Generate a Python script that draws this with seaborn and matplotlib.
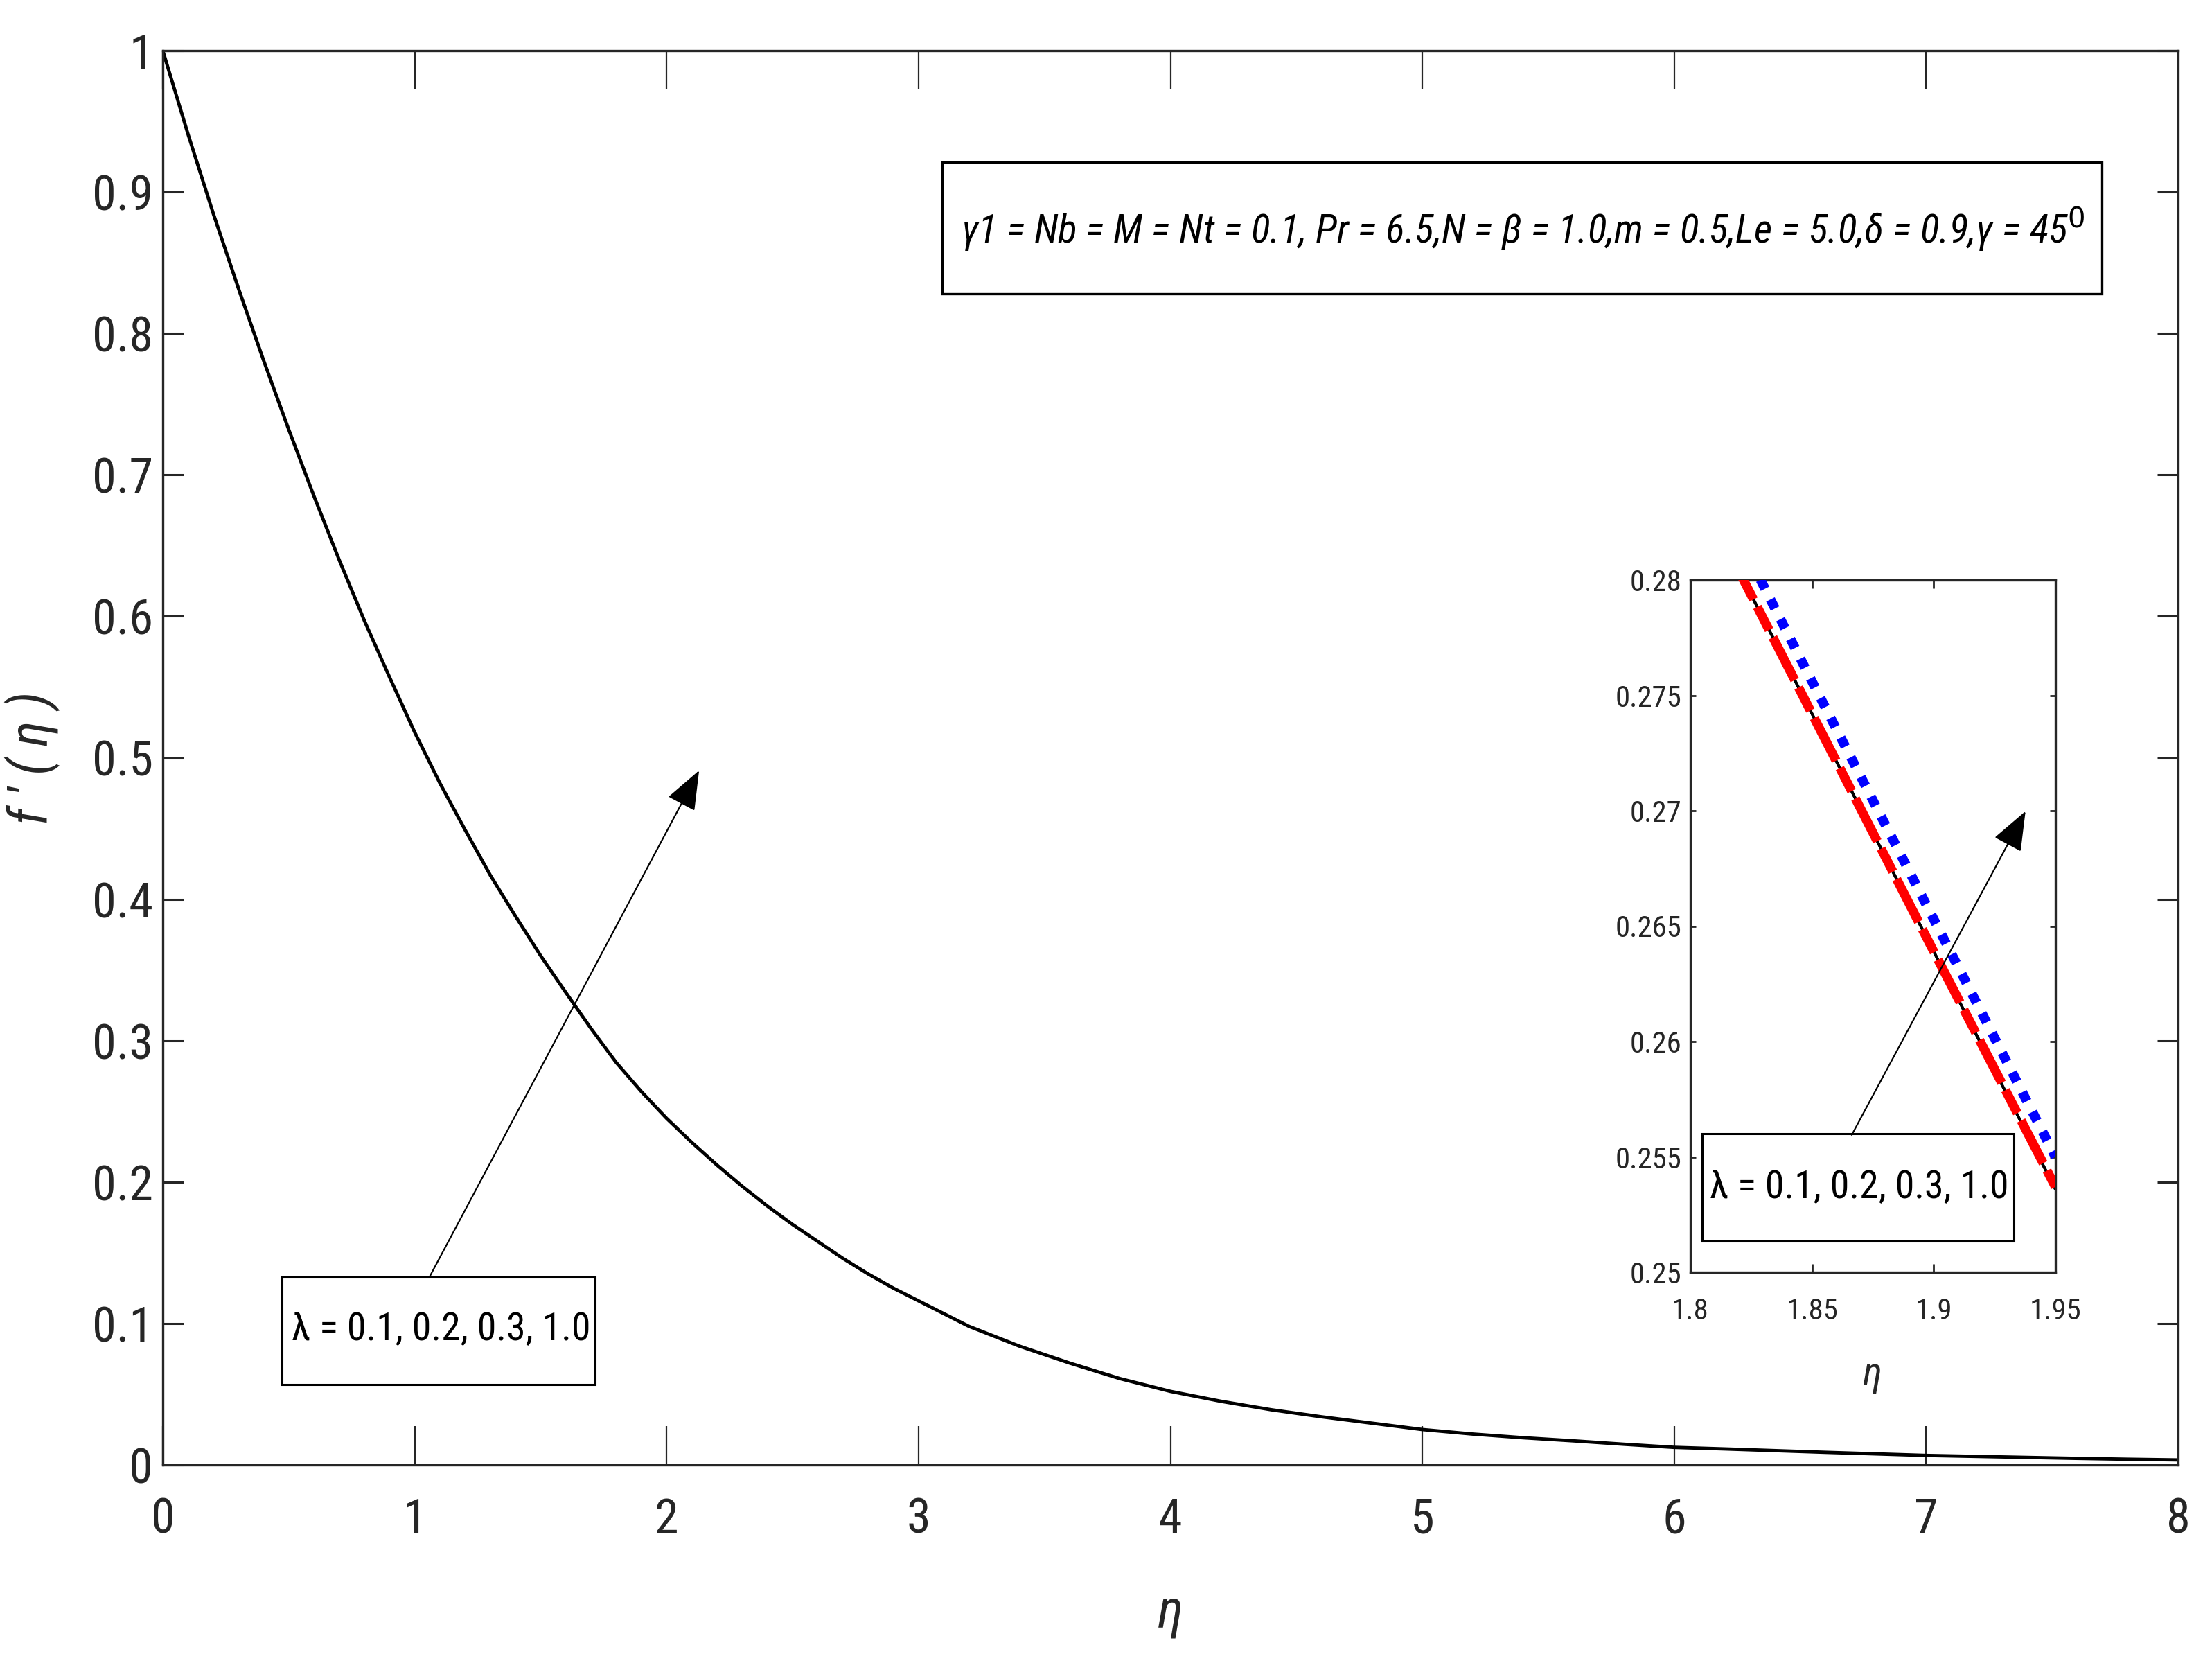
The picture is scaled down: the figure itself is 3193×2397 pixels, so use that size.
import matplotlib
matplotlib.use("Agg")
import matplotlib.pyplot as plt
import seaborn as sns
import pandas as pd
from matplotlib import font_manager as fm
from matplotlib.patches import Rectangle
from matplotlib.ticker import FormatStrFormatter

# ---------------- data ----------------
eta = [0.0, 0.1, 0.2, 0.3, 0.4, 0.5, 0.6, 0.7, 0.8, 0.9,
       1.0, 1.1, 1.2, 1.3, 1.4, 1.5, 1.6, 1.7, 1.8, 1.9,
       2.0, 2.1, 2.2, 2.3, 2.4, 2.5, 2.6, 2.7, 2.8, 2.9,
       3.0, 3.2, 3.4, 3.6, 3.8, 4.0, 4.2, 4.4, 4.6, 4.8,
       5.0, 5.2, 5.4, 5.6, 5.8, 6.0, 6.2, 6.4, 6.6, 6.8,
       7.0, 7.2, 7.4, 7.6, 7.8, 8.0]
fprime = [1.000, 0.941, 0.885, 0.832, 0.781, 0.732, 0.685, 0.640, 0.597, 0.557,
          0.518, 0.482, 0.449, 0.417, 0.388, 0.360, 0.334, 0.3085, 0.2845, 0.2639,
          0.245, 0.228, 0.212, 0.197, 0.183, 0.170, 0.158, 0.146, 0.135, 0.125,
          0.116, 0.098, 0.084, 0.072, 0.061, 0.052, 0.045, 0.039, 0.034, 0.0295,
          0.025, 0.0218, 0.0192, 0.0170, 0.0146, 0.0124, 0.0113, 0.0101, 0.0089, 0.0078,
          0.0067, 0.0060, 0.0053, 0.0046, 0.0040, 0.0035]

lam_values = [0.1, 0.2, 0.3, 1.0]
inset_eta = [1.80, 1.85, 1.90, 1.95]
inset_f_lam01 = [0.2845, 0.2742, 0.2639, 0.2536]
inset_f_lam02 = [0.2845, 0.2742, 0.2639, 0.2536]
inset_f_lam03 = [0.2845, 0.2742, 0.2639, 0.2537]
inset_f_lam10 = [0.2860, 0.2756, 0.2653, 0.2550]

main_xticks = [0, 1, 2, 3, 4, 5, 6, 7, 8]
main_yticks = [0, 0.1, 0.2, 0.3, 0.4, 0.5, 0.6, 0.7, 0.8, 0.9, 1.0]
main_yticklabels = ["0", "0.1", "0.2", "0.3", "0.4", "0.5", "0.6", "0.7", "0.8", "0.9", "1"]
inset_xticks = [1.8, 1.85, 1.9, 1.95]
inset_yticks = [0.25, 0.255, 0.26, 0.265, 0.27, 0.275, 0.28]

param_text = ("γ1 = Nb = M = Nt = 0.1, Pr = 6.5,N = β = 1.0,m = 0.5,"
              "Le = 5.0,δ = 0.9,γ = 45$^{0}$")
lam_text = "λ = 0.1, 0.2, 0.3, 1.0"

# ---------------- fonts ----------------
available = {f.name for f in fm.fontManager.ttflist}
prefs = ["Roboto Condensed", "Archivo Narrow", "Fira Sans Condensed",
         "IBM Plex Sans Condensed", "Liberation Sans Narrow", "Arimo",
         "Liberation Sans"]
main_font = next((p for p in prefs if p in available), "DejaVu Sans")
FAM = [main_font, "DejaVu Sans"]

# ---------------- style ----------------
sns.set_theme(style="white")
plt.rcParams["font.family"] = FAM
plt.rcParams["axes.edgecolor"] = "#262626"
plt.rcParams["axes.linewidth"] = 2.4
plt.rcParams["xtick.color"] = "#262626"
plt.rcParams["ytick.color"] = "#262626"
plt.rcParams["mathtext.fontset"] = "dejavusans"

W, H = 3193, 2397
fig = plt.figure(figsize=(W / 100, H / 100), dpi=100)
renderer = fig.canvas.get_renderer()


def fitted_size(s, target_w, base=40, style="normal", cap=None, rot=0):
    t = fig.text(0, 0, s, fontsize=base, fontstyle=style, rotation=rot)
    bb = t.get_window_extent(renderer)
    t.remove()
    w = bb.height if rot else bb.width
    size = base * target_w / w
    if cap is not None:
        size = min(size, cap)
    return size


tick_main = fitted_size("0.9", 88, cap=64)
tick_inset = fitted_size("0.275", 96, cap=44)
param_size = fitted_size(param_text, 1620, style="italic")
lam_size = fitted_size(lam_text, 432)
ylab_size = fitted_size("f ′ ( η )", 192, style="italic", rot=90)

# main axes
ax = fig.add_axes([235 / W, 1 - 2114 / H, (3144 - 235) / W, (2114 - 73) / H])
df_main = pd.DataFrame({"eta": eta, "fprime": fprime})
sns.lineplot(data=df_main, x="eta", y="fprime", ax=ax, color="black",
             linewidth=3.5, sort=False, estimator=None)
ax.set_xlim(0, 8)
ax.set_ylim(0, 1)
ax.set_xticks(main_xticks)
ax.set_xticklabels([str(t) for t in main_xticks])
ax.set_yticks(main_yticks)
ax.set_yticklabels(main_yticklabels)
ax.tick_params(axis="x", direction="in", top=True, bottom=True, length=40,
               width=1.6, pad=33, labelsize=tick_main)
ax.tick_params(axis="y", direction="in", left=True, right=True, length=21.6,
               width=2.2, pad=10, labelsize=tick_main)
ax.set_xlabel("η", fontsize=56, fontstyle="italic", color="#262626")
ax.set_ylabel("f ′ ( η )", fontsize=ylab_size, fontstyle="italic", color="#262626")
ax.xaxis.set_label_coords(0.5, -0.086)
ax.yaxis.set_label_coords(-0.051, 0.5)
for s in ax.spines.values():
    s.set_visible(True)

# parameter box
ax.add_patch(Rectangle((3.094, 0.828), 7.698 - 3.094, 0.921 - 0.828,
                       fill=False, edgecolor="black", linewidth=2.4, zorder=5))
ax.text(5.40, 0.8737, param_text, fontsize=param_size, fontstyle="italic",
        ha="center", va="center", color="black", zorder=6)

# lambda box + arrow (main)
ax.add_patch(Rectangle((0.474, 0.0568), 1.716 - 0.474, 0.133 - 0.0568,
                       fill=False, edgecolor="black", linewidth=2.2, zorder=5))
ax.text(1.105, 0.096, lam_text, fontsize=lam_size, ha="center", va="center",
        color="black", zorder=6)
ax.annotate("", xy=(2.129, 0.491), xytext=(1.059, 0.133),
            arrowprops=dict(arrowstyle="-|>,head_length=36,head_width=14",
                            mutation_scale=1, color="black", lw=1.6,
                            shrinkA=0, shrinkB=0))

# inset axes
axi = fig.add_axes([2440 / W, 1 - 1836 / H, (2967 - 2440) / W, (1836 - 837) / H])
df_in = pd.DataFrame({"eta": inset_eta * 4,
                      "f": inset_f_lam01 + inset_f_lam02 + inset_f_lam03 + inset_f_lam10,
                      "lam": sum([[l] * len(inset_eta) for l in lam_values], [])})
sns.lineplot(data=df_in[df_in["lam"] == 0.1], x="eta", y="f", ax=axi,
             color="black", linewidth=2.9, sort=False, estimator=None, zorder=2)
sns.lineplot(data=df_in[df_in["lam"] == 0.2], x="eta", y="f", ax=axi,
             color="black", linewidth=2.9, sort=False, estimator=None, zorder=2)
sns.lineplot(data=df_in[df_in["lam"] == 0.3], x="eta", y="f", ax=axi,
             color="red", linewidth=9.6, sort=False, estimator=None, zorder=3,
             linestyle=(0, (5.2, 0.9, 2.8, 0.9)))
sns.lineplot(data=df_in[df_in["lam"] == 1.0], x="eta", y="f", ax=axi,
             color="blue", linewidth=10.0, sort=False, estimator=None, zorder=3,
             linestyle=(0, (1.05, 1.25)))
axi.set_xlim(1.8, 1.95)
axi.set_ylim(0.25, 0.28)
axi.set_xticks(inset_xticks)
axi.set_yticks(inset_yticks)
axi.xaxis.set_major_formatter(FormatStrFormatter("%g"))
axi.yaxis.set_major_formatter(FormatStrFormatter("%g"))
axi.tick_params(axis="x", direction="in", top=True, bottom=True, length=8.6,
                width=2.0, pad=26, labelsize=tick_inset)
axi.tick_params(axis="y", direction="in", left=True, right=True, length=5.8,
                width=2.0, pad=9, labelsize=tick_inset)
axi.set_xlabel("η", fontsize=42, fontstyle="italic", color="#262626")
axi.set_ylabel("")
axi.xaxis.set_label_coords(0.497, -0.12)
for s in axi.spines.values():
    s.set_visible(True)
    s.set_linewidth(2.4)

axi.add_patch(Rectangle((1.8048, 0.25135), 1.9329 - 1.8048, 0.2560 - 0.25135,
                        fill=False, edgecolor="black", linewidth=2.2, zorder=5))
axi.text(1.8695, 0.25372, lam_text, fontsize=lam_size, ha="center", va="center",
         color="black", zorder=6)
axi.annotate("", xy=(1.9377, 0.26998), xytext=(1.8663, 0.25595),
             arrowprops=dict(arrowstyle="-|>,head_length=36,head_width=14",
                             mutation_scale=1, color="black", lw=1.6,
                             shrinkA=0, shrinkB=0))

fig.savefig("out.png", dpi=100, facecolor="white")
